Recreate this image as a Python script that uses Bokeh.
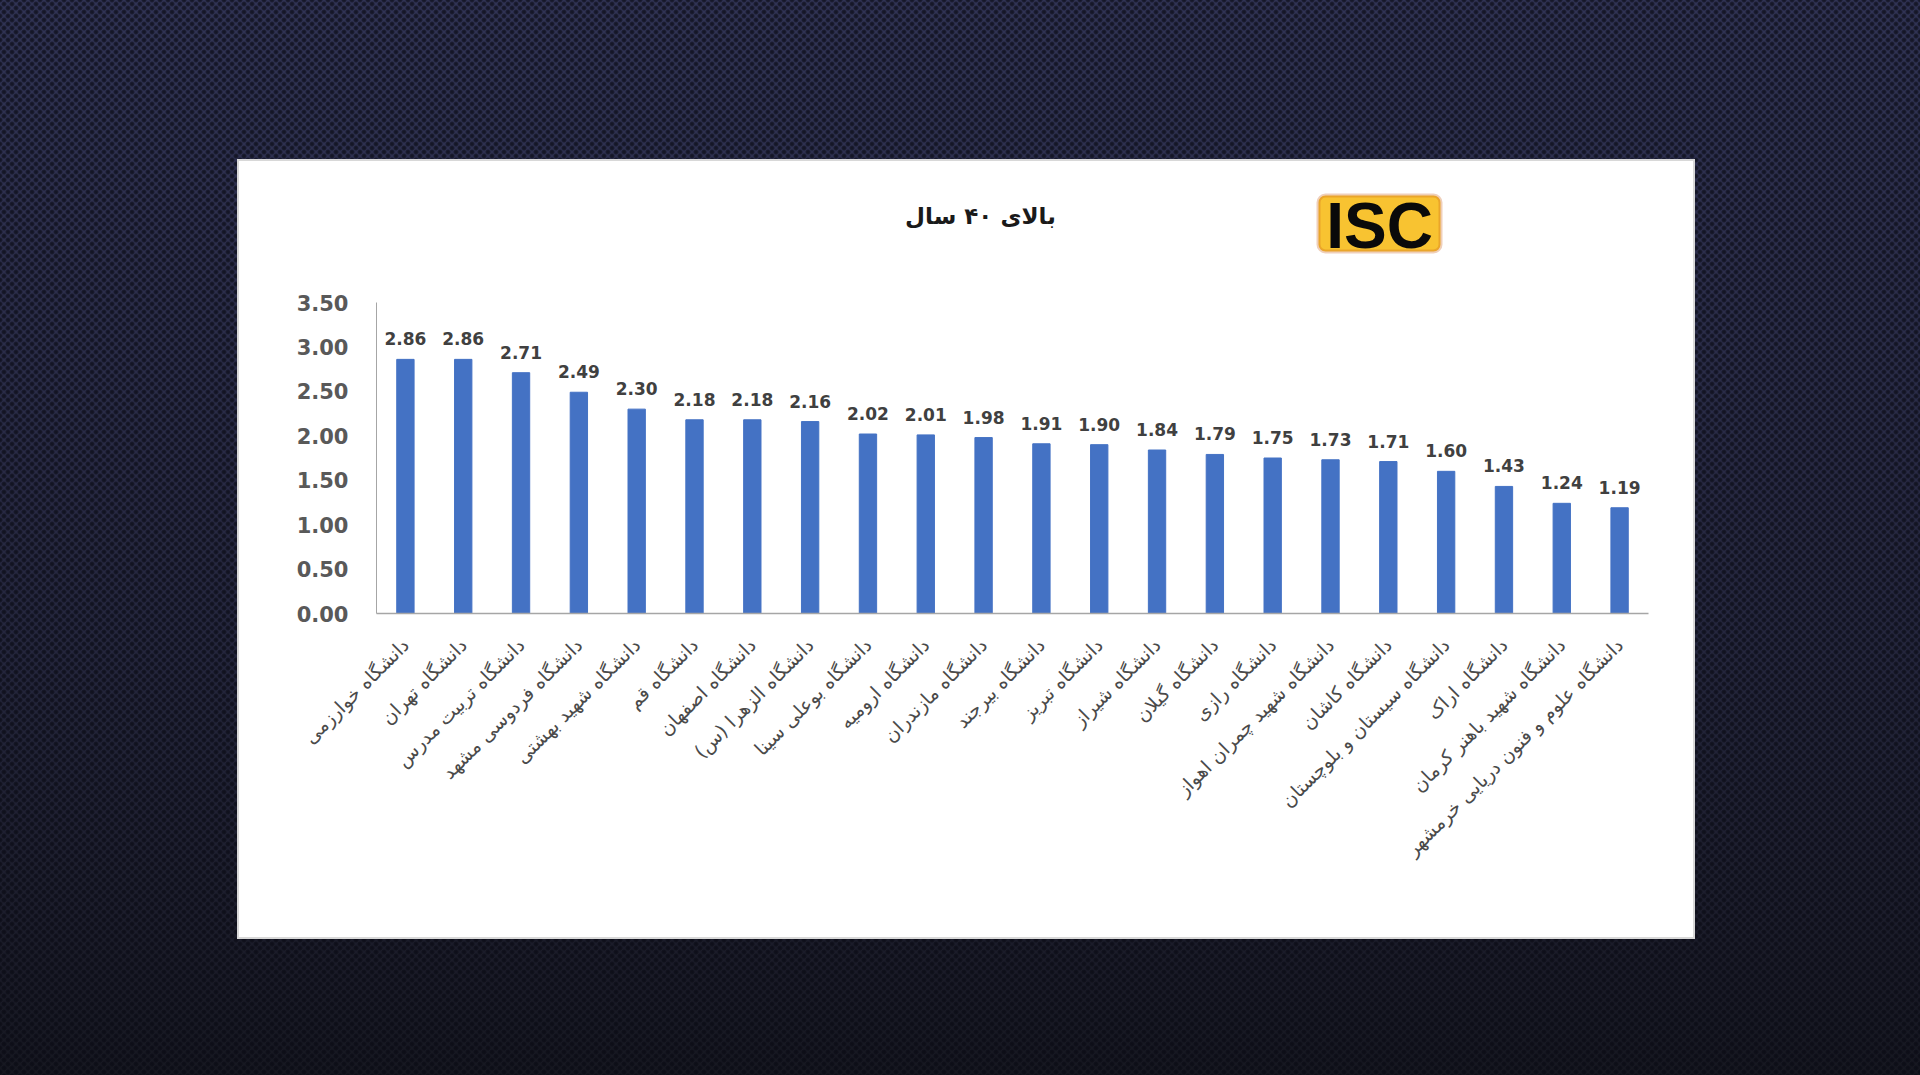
import math
from bokeh.plotting import figure
from bokeh.models import (ColumnDataSource, FactorRange, Range1d, FixedTicker,
                          NumeralTickFormatter, LabelSet, Label, BoxAnnotation)
from bokeh.core.properties import value
from bokeh.embed import file_html
from bokeh.resources import INLINE

# ---------------- data ----------------
universities = [
    "دانشگاه خوارزمی",
    "دانشگاه تهران",
    "دانشگاه تربیت مدرس",
    "دانشگاه فردوسی مشهد",
    "دانشگاه شهید بهشتی",
    "دانشگاه قم",
    "دانشگاه اصفهان",
    "دانشگاه الزهرا (س)",
    "دانشگاه بوعلی سینا",
    "دانشگاه ارومیه",
    "دانشگاه مازندران",
    "دانشگاه بیرجند",
    "دانشگاه تبریز",
    "دانشگاه شیراز",
    "دانشگاه گیلان",
    "دانشگاه رازی",
    "دانشگاه شهید چمران اهواز",
    "دانشگاه کاشان",
    "دانشگاه سیستان و بلوچستان",
    "دانشگاه اراک",
    "دانشگاه شهید باهنر کرمان",
    "دانشگاه علوم و فنون دریایی خرمشهر",
]
scores = [2.86, 2.86, 2.71, 2.49, 2.30, 2.18, 2.18, 2.16, 2.02, 2.01, 1.98,
          1.91, 1.90, 1.84, 1.79, 1.75, 1.73, 1.71, 1.60, 1.43, 1.24, 1.19]
y_ticks = [0.0, 0.5, 1.0, 1.5, 2.0, 2.5, 3.0, 3.5]
title_text = "بالای ۴۰ سال"
logo_text = "ISC"

# ---------------- geometry ----------------
W, H = 1920, 1075
FL, FR, FB = 376, 1648, 613      # frame left/right/bottom in canvas px
AXTOP = 302                      # pixel row of the value 3.5
FT = 170                         # frame top (room for title + logo inside frame)
N = len(universities)
YAX = 3.5
PXU = (FB - AXTOP) / YAX         # px per unit
YEND = (FB - FT) / PXU


def dx(px):  # canvas px -> data x (synthetic categorical coordinate)
    return (px - FL) / (FR - FL) * N


def dy(py):  # canvas px -> data y
    return (FB - py) / PXU


src = ColumnDataSource(dict(
    name=universities,
    score=scores,
    label=[f"{v:.2f}" for v in scores],
))

p = figure(width=W, height=H, output_backend="svg", toolbar_location=None,
           x_range=FactorRange(factors=universities),
           y_range=Range1d(0, YEND),
           min_border_left=FL, min_border_right=W - FR,
           min_border_top=FT, min_border_bottom=H - FB)
p.border_fill_color = None
p.background_fill_color = None
p.outline_line_color = None
p.xgrid.visible = False
p.ygrid.visible = False

# ---- slide background (navy gradient, dot texture) and white chart panel ----
p.styles = {
    "background-color": "#24263d",
    "background-image": ", ".join([
        "linear-gradient(#ffffff, #ffffff)",
        "linear-gradient(#d8d8d8, #d8d8d8)",
        "radial-gradient(circle, rgba(8,9,18,0.75) 0px, rgba(8,9,18,0.55) 1.8px, rgba(8,9,18,0) 3px)",
        "radial-gradient(circle, rgba(8,9,18,0.75) 0px, rgba(8,9,18,0.55) 1.8px, rgba(8,9,18,0) 3px)",
        "linear-gradient(to bottom, #303354 0%, #2a2c48 35%, #24263d 60%, #1c1d2c 85%, #161720 100%)",
    ]),
    "background-size": "1454px 776px, 1458px 780px, 8px 8px, 8px 8px, 100% 100%",
    "background-position": "239px 161px, 237px 159px, 0px 0px, 4px 4px, 0px 0px",
    "background-repeat": "no-repeat, no-repeat, repeat, repeat, no-repeat",
}

# ---- bars ----
p.vbar(x="name", top="score", width=0.3, source=src,
       fill_color="#4472c4", line_color="#4472c4")

p.add_layout(LabelSet(x="name", y="score", text="label", source=src,
                      text_align="center", text_baseline="alphabetic",
                      y_offset=14, text_font=value("DejaVu Sans"),
                      text_font_style="bold", text_font_size="17px",
                      text_color="#404040"))

# ---- axes ----
p.yaxis.ticker = FixedTicker(ticks=y_ticks)
p.yaxis.formatter = NumeralTickFormatter(format="0.00")
p.yaxis.bounds = (y_ticks[0], y_ticks[-1])
for ax in (p.xaxis, p.yaxis):
    ax.major_tick_line_color = None
    ax.minor_tick_line_color = None
    ax.axis_line_color = "#a6a6a6"
p.yaxis.axis_line_width = 1
p.xaxis.axis_line_width = 1.5
p.yaxis.major_label_standoff = 22
p.yaxis.major_label_text_font = "DejaVu Sans"
p.yaxis.major_label_text_font_style = "bold"
p.yaxis.major_label_text_font_size = "21px"
p.yaxis.major_label_text_color = "#595959"

p.xaxis.major_label_orientation = math.pi / 4
p.xaxis.major_label_standoff = 22
p.xaxis.major_label_text_font = "DejaVu Sans"
p.xaxis.major_label_text_font_size = "19px"
p.xaxis.major_label_text_color = "#4a4a4a"

# ---- title ----
p.add_layout(Label(x=dx(980), y=dy(215), text=title_text,
                   text_align="center", text_baseline="middle",
                   text_font="DejaVu Sans", text_font_style="bold",
                   text_font_size="23px", text_color="#1a1a1a"))

# ---- logo ----
p.add_layout(BoxAnnotation(left=dx(1318), right=dx(1440), top=dy(195), bottom=dy(251),
                           fill_color="#f8c331", fill_alpha=1.0,
                           line_color="#c95f1c", line_width=4, border_radius=7))
p.add_layout(Label(x=dx(1379), y=dy(225), text=logo_text, text_align="center",
                   text_baseline="middle", text_font="Liberation Sans",
                   text_font_style="bold", text_font_size="64px",
                   text_color="#0a0a0a"))

open("out.html", "w").write(file_html(p, INLINE))
